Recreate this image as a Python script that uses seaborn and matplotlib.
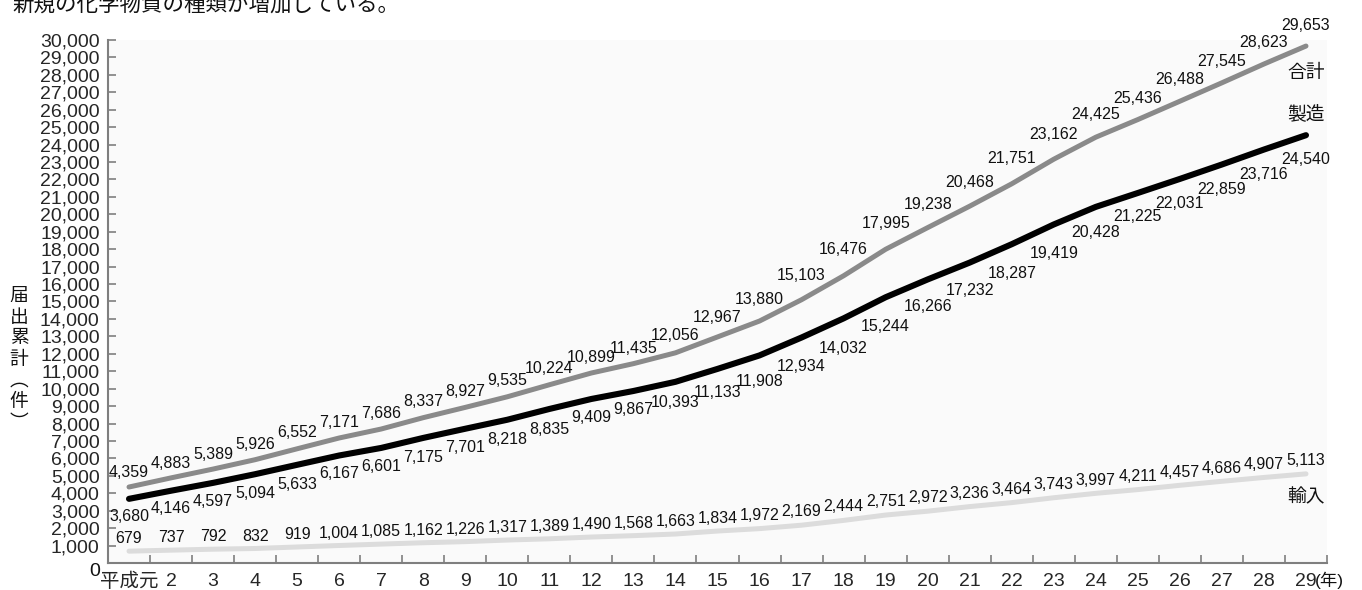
import numpy as np
import pandas as pd
import seaborn as sns
import matplotlib
matplotlib.use("Agg")
import matplotlib.pyplot as plt
from matplotlib import font_manager
from matplotlib.ticker import FuncFormatter, MultipleLocator, FixedLocator

# 平成元年〜29年 の届出累計（件）
years = ["平成元"] + [str(i) for i in range(2, 30)]
total = [4359, 4883, 5389, 5926, 6552, 7171, 7686, 8337, 8927, 9535,
         10224, 10899, 11435, 12056, 12967, 13880, 15103, 16476, 17995, 19238,
         20468, 21751, 23162, 24425, 25436, 26488, 27545, 28623, 29653]
manufacture = [3680, 4146, 4597, 5094, 5633, 6167, 6601, 7175, 7701, 8218,
               8835, 9409, 9867, 10393, 11133, 11908, 12934, 14032, 15244, 16266,
               17232, 18287, 19419, 20428, 21225, 22031, 22859, 23716, 24540]
imports = [679, 737, 792, 832, 919, 1004, 1085, 1162, 1226, 1317,
           1389, 1490, 1568, 1663, 1834, 1972, 2169, 2444, 2751, 2972,
           3236, 3464, 3743, 3997, 4211, 4457, 4686, 4907, 5113]
series_names = ["輸入", "合計", "製造"]

sns.set_theme(style="white")
plt.rcParams['font.family'] = ['Liberation Sans', 'Noto Sans CJK JP']
plt.rcParams['text.color'] = '#111111'

installed = {f.name for f in font_manager.fontManager.ttflist}
if "Liberation Sans Narrow" in installed:
    label_family, label_size = ["Liberation Sans Narrow"], 13.5
else:
    label_family, label_size = ["Liberation Sans"], 11.5

df = pd.DataFrame({"x": range(len(years)), "合計": total, "製造": manufacture, "輸入": imports})
long_df = df.melt(id_vars="x", var_name="series", value_name="count")

fig = plt.figure(figsize=(13.62, 5.90), dpi=100)
ax = fig.add_axes([108 / 1362, 27 / 590, 1219 / 1362, 523 / 590])

palette = {"合計": "#8a8a8a", "製造": "#000000", "輸入": "#dcdcdc"}
widths = {"合計": 3.6, "製造": 4.4, "輸入": 3.6}
for name in series_names:
    sub = long_df[long_df["series"] == name]
    sns.lineplot(data=sub, x="x", y="count", color=palette[name], linewidth=widths[name],
                 legend=False, ax=ax, solid_capstyle="round", zorder=3 if name == "製造" else 2)

ax.set_xlim(-0.5, 28.5)
ax.set_ylim(0, 30000)
ax.set_facecolor("#fafafa")
ax.set_xlabel("")
ax.set_ylabel("")
for s in ["top", "right"]:
    ax.spines[s].set_visible(False)
for s in ["left", "bottom"]:
    ax.spines[s].set_color("#7f7f7f")
    ax.spines[s].set_linewidth(1.5)

ax.yaxis.set_major_locator(MultipleLocator(1000))
ax.yaxis.set_major_formatter(FuncFormatter(lambda v, p: "" if v == 0 else f"{int(v):,}"))
ax.tick_params(axis="y", left=True, direction="in", length=6, width=1.2, color="#7f7f7f",
               pad=6, labelsize=14)

ax.xaxis.set_major_locator(FixedLocator(range(len(years))))
ax.set_xticklabels(years)
ax.xaxis.set_minor_locator(FixedLocator(np.arange(0.5, len(years), 1)))
ax.tick_params(axis="x", which="major", bottom=True, length=0, pad=7, labelsize=14)
ax.tick_params(axis="x", which="minor", bottom=True, direction="in", length=6, width=1.2,
               color="#7f7f7f")

ax.annotate("0", xy=(0, 0), xycoords="axes fraction", xytext=(-8, -9),
            textcoords="offset pixels", ha="right", va="center", fontsize=14)
ax.annotate("(年)", xy=(len(years) - 1, 0), xytext=(9, -17), textcoords="offset pixels",
            ha="left", va="center", fontsize=12.5, annotation_clip=False)

# data labels: above/below the line, pushed further away where the line is steep
def add_labels(values, sign, base, k):
    pts = ax.transData.transform(np.column_stack([np.arange(len(values)), values]))
    n = len(values)
    for i, v in enumerate(values):
        a = max(i - 1, 0)
        b = min(i + 1, n - 1)
        rise = (pts[b, 1] - pts[a, 1]) / (b - a)
        off = base + k * rise
        ax.annotate(f"{v:,}", xy=(i, v), xytext=(0, sign * off), textcoords="offset pixels",
                    ha="center", va="center", fontsize=label_size, family=label_family,
                    annotation_clip=False, zorder=5)

add_labels(total, 1, 8, 0.72)
add_labels(manufacture, -1, 10, 1.0)
add_labels(imports, 1, 12, 0.3)

last = len(years) - 1
ax.annotate("合計", xy=(last, total[-1]), xytext=(0, -27), textcoords="offset pixels",
            ha="center", va="center", fontsize=13.5)
ax.annotate("製造", xy=(last, manufacture[-1]), xytext=(0, 21), textcoords="offset pixels",
            ha="center", va="center", fontsize=13.5)
ax.annotate("輸入", xy=(last, imports[-1]), xytext=(0, -24), textcoords="offset pixels",
            ha="center", va="center", fontsize=13.5)

fig.text(19 / 1362, 1 - 359 / 590, "届\n出\n累\n計\n︵\n件\n︶", ha="center", va="center",
         fontsize=13.5, linespacing=1.0, family=["Noto Sans CJK JP"])
fig.text(12 / 1362, 1 - 11 / 590, "新規の化学物質の種類が増加している。", ha="left",
         va="baseline", fontsize=15.5, family=["Noto Sans CJK JP"])

fig.savefig("out.png", dpi=100, facecolor="white")
